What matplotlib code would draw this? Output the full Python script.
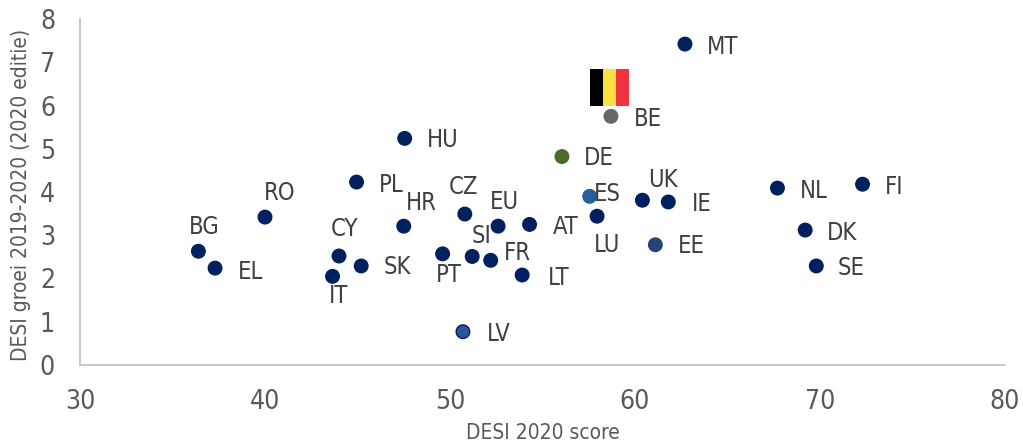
import matplotlib
matplotlib.use("Agg")
import matplotlib.pyplot as plt
from matplotlib.patches import Rectangle

plt.rcParams['font.family'] = ['DejaVu Sans']
plt.rcParams['font.stretch'] = 'condensed'

# data
countries = ['MT', 'BE', 'DE', 'ES', 'LU', 'UK', 'IE', 'NL', 'FI', 'AT', 'EU', 'CZ', 'HR', 'HU', 'PL',
             'RO', 'BG', 'EL', 'CY', 'SK', 'IT', 'PT', 'SI', 'FR', 'LT', 'LV', 'EE', 'DK', 'SE']
score = [62.7, 58.7, 56.05, 57.55, 57.95, 60.4, 61.8, 67.7, 72.3, 54.3, 52.6, 50.8, 47.5, 47.55, 44.95,
         40.0, 36.4, 37.3, 44.0, 45.2, 43.65, 49.6, 51.2, 52.2, 53.9, 50.7, 61.1, 69.2, 69.8]
growth = [7.42, 5.75, 4.82, 3.9, 3.44, 3.81, 3.77, 4.09, 4.18, 3.25, 3.21, 3.49, 3.21, 5.24, 4.23,
          3.42, 2.63, 2.24, 2.52, 2.29, 2.05, 2.57, 2.51, 2.42, 2.08, 0.77, 2.78, 3.12, 2.29]
xticks = [30, 40, 50, 60, 70, 80]
yticks = [0, 1, 2, 3, 4, 5, 6, 7, 8]

# label placement in pixels from the point
label_dx = [38, 37, 37, 17.5, 10, 20.5, 33.5, 36, 32, 36, 6, -1, 18, 38.5, 35,
            15, 6, 36, 5, 36, 6.5, 6, 9, 27, 37, 36, 36, 37, 34.5]
label_dy = [-1, -1, 0, 4, -27, 22, -1, -1, -1, -1.5, 26, 29, 25, 0, -1,
            26, 26, -2, 29, 0, -18.5, -20, 21.5, 8.5, -1, -1, 0, -1, -1]

special = {'BE': '#666666', 'DE': '#4A6B2A', 'ES': '#24619A', 'EE': '#264478', 'LV': '#2F5597'}
navy = '#002060'

W, H = 1023, 445
fig = plt.figure(figsize=(W / 100, H / 100), dpi=100)
ax = fig.add_axes([80 / W, 1 - 365 / H, 925 / W, 346 / H])

colors = [special.get(c, navy) for c in countries]
edges = [navy if c == 'LV' else special.get(c, navy) for c in countries]
ax.scatter(score, growth, s=95, c=colors, edgecolors=edges, linewidths=1.0, zorder=3, clip_on=False)

for i in range(len(countries)):
    ax.annotate(countries[i], (score[i], growth[i]), xytext=(label_dx[i], label_dy[i] - 1.5),
                textcoords='offset pixels', ha='center', va='center', fontsize=17, color='#404040')

# belgian flag above BE
flag_colors = ['#000000', '#FAE042', '#EF3340']
for i in range(3):
    ax.add_patch(Rectangle((57.57 + i * 0.703, 5.99), 0.703, 0.85, facecolor=flag_colors[i],
                           edgecolor='none', zorder=2))

ax.set_xlim(30, 80)
ax.set_ylim(0, 8)
ax.set_xticks(xticks)
ax.set_yticks(yticks)
ax.tick_params(length=0, labelsize=19, labelcolor='#595959')
ax.tick_params(axis='x', pad=17)
ax.tick_params(axis='y', pad=18)
ax.spines['top'].set_visible(False)
ax.spines['right'].set_visible(False)
ax.spines['left'].set_color('#BFBFBF')
ax.spines['bottom'].set_color('#BFBFBF')
ax.spines['left'].set_linewidth(1.2)
ax.spines['bottom'].set_linewidth(1.2)

fig.text(543 / W, 1 - 433 / H, 'DESI 2020 score', ha='center', va='center', fontsize=15, color='#595959')
fig.text(21 / W, 1 - 195 / H, 'DESI groei 2019-2020 (2020 editie)', rotation=90, ha='center', va='center',
         fontsize=15, color='#595959')

fig.savefig('out.png', dpi=100)
